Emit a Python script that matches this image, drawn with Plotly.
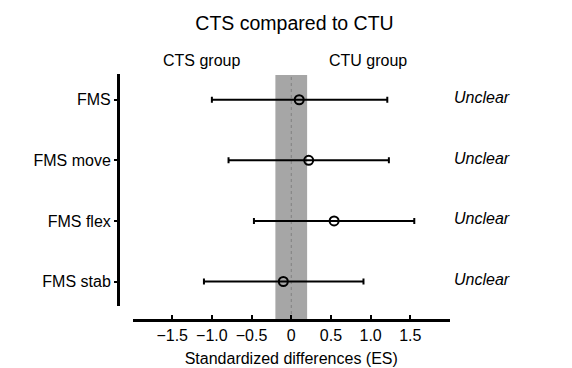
import plotly.graph_objects as go

# ---- data ----
categories = ["FMS", "FMS move", "FMS flex", "FMS stab"]
es = [0.10, 0.22, 0.54, -0.10]
ci_lower = [-1.00, -0.79, -0.47, -1.10]
ci_upper = [1.21, 1.23, 1.55, 0.91]
inference = ["Unclear", "Unclear", "Unclear", "Unclear"]
swc = 0.2
tick_vals = [-1.5, -1.0, -0.5, 0, 0.5, 1.0, 1.5]
tick_text = ["\u22121.5", "\u22121.0", "\u22120.5", "0", "0.5", "1.0", "1.5"]

FONT = "Arial, Liberation Sans, sans-serif"

err_plus = [u - e for u, e in zip(ci_upper, es)]
err_minus = [e - l for e, l in zip(es, ci_lower)]

fig = go.Figure()
fig.add_trace(go.Scatter(
    x=es, y=categories, mode="markers",
    marker=dict(symbol="circle", size=9, color="rgba(0,0,0,0)",
                line=dict(color="black", width=2)),
    error_x=dict(type="data", symmetric=False, array=err_plus,
                 arrayminus=err_minus, color="black", thickness=2, width=3),
    showlegend=False, hoverinfo="skip",
))

# smallest worthwhile change band and zero line
fig.add_shape(type="rect", xref="x", yref="paper", x0=-swc, x1=swc,
              y0=0, y1=0.996, fillcolor="#a6a6a6", line=dict(width=0),
              layer="below")
fig.add_shape(type="line", xref="x", yref="paper", x0=0, x1=0,
              y0=0, y1=0.996, line=dict(color="#808080", width=1, dash="dot"),
              layer="below")

# group labels
fig.add_annotation(text="CTS group", xref="paper", yref="paper", x=0.25, y=1.053,
                   xanchor="center", yanchor="middle", showarrow=False,
                   font=dict(family=FONT, size=16, color="black"))
fig.add_annotation(text="CTU group", xref="paper", yref="paper", x=0.753, y=1.053,
                   xanchor="center", yanchor="middle", showarrow=False,
                   font=dict(family=FONT, size=16, color="black"))

for cat, inf in zip(categories, inference):
    fig.add_annotation(text="<i>" + inf + "</i>", xref="paper", yref="y",
                       x=1.095, y=cat, yshift=2, xanchor="center",
                       yanchor="middle", showarrow=False,
                       font=dict(family=FONT, size=16, color="black"))

fig.update_layout(
    width=572, height=368,
    margin=dict(l=110, r=130, t=66, b=56),
    paper_bgcolor="white", plot_bgcolor="white",
    font=dict(family=FONT, size=16, color="black"),
    title=dict(text="CTS compared to CTU", x=286.5 / 572, xanchor="center",
               y=1 - 15 / 368, yanchor="middle",
               font=dict(family=FONT, size=19.5, color="black")),
    xaxis=dict(domain=[14.5 / 332, 1], range=[-2, 2], anchor="free", position=0,
               showline=True, linecolor="black", linewidth=3,
               ticks="inside", ticklen=4, tickwidth=2, tickcolor="black",
               tickvals=tick_vals, ticktext=tick_text,
               tickfont=dict(family=FONT, size=16, color="black"),
               showgrid=False, zeroline=False,
               title=dict(text="Standardized differences (ES)", standoff=9,
                          font=dict(family=FONT, size=16, color="black"))),
    yaxis=dict(domain=[0.058, 1], type="category", categoryorder="array",
               categoryarray=categories, range=[3.40, -0.425],
               anchor="free", position=0,
               showline=True, linecolor="black", linewidth=3,
               ticks="outside", ticklen=3, tickwidth=2, tickcolor="black",
               tickfont=dict(family=FONT, size=16, color="black"),
               showgrid=False, zeroline=False),
)

fig.write_html("out.html")
